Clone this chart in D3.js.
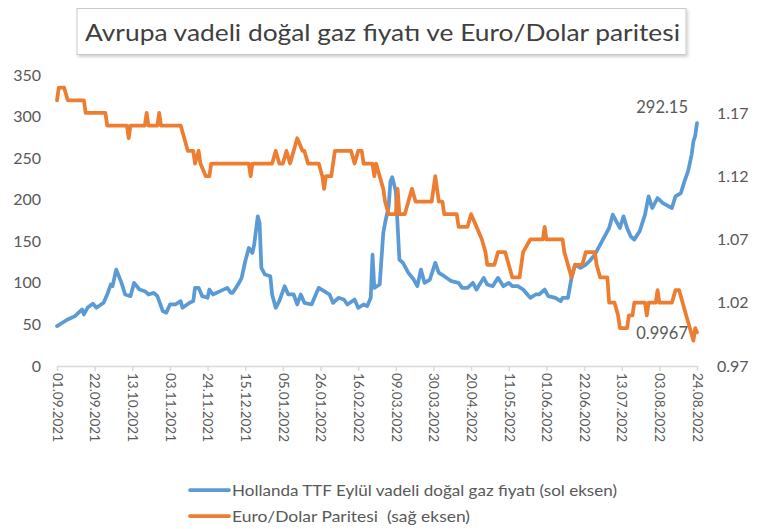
<!DOCTYPE html>
<html>
<head>
<meta charset="utf-8">
<script src="https://cdn.jsdelivr.net/npm/d3@7"></script>
<style>
  body { margin: 0; background: #fff; }
  svg { display: block; font-family: Lato, "Open Sans", sans-serif; }
</style>
</head>
<body>
<div id="chart"></div>
<script>
// dati
const titleText = 'Avrupa vadeli doğal gaz fiyatı ve Euro/Dolar paritesi';
const ttfLabel = 'Hollanda TTF Eylül vadeli doğal gaz fiyatı (sol eksen)';
const eurLabel = 'Euro/Dolar Paritesi  (sağ eksen)';

const dateTicks = ['01.09.2021','22.09.2021','13.10.2021','03.11.2021','24.11.2021','15.12.2021',
  '05.01.2022','26.01.2022','16.02.2022','09.03.2022','30.03.2022','20.04.2022','11.05.2022',
  '01.06.2022','22.06.2022','13.07.2022','03.08.2022','24.08.2022'];
const leftTicks = [0, 50, 100, 150, 200, 250, 300, 350];
const rightTicks = [0.97, 1.02, 1.07, 1.12, 1.17];

// TTF (sol eksen)
const ttfDates = ['01.09.2021','04.09.2021','07.09.2021','11.09.2021','15.09.2021','16.09.2021','18.09.2021',
  '21.09.2021','23.09.2021','27.09.2021','29.09.2021','01.10.2021','02.10.2021','04.10.2021','07.10.2021',
  '09.10.2021','12.10.2021','14.10.2021','17.10.2021','20.10.2021','22.10.2021','25.10.2021','27.10.2021',
  '30.10.2021','01.11.2021','03.11.2021','06.11.2021','09.11.2021','10.11.2021','14.11.2021','16.11.2021',
  '17.11.2021','19.11.2021','21.11.2021','24.11.2021','25.11.2021','27.11.2021','01.12.2021','05.12.2021',
  '07.12.2021','08.12.2021','11.12.2021','13.12.2021','15.12.2021','17.12.2021','19.12.2021','20.12.2021',
  '22.12.2021','23.12.2021','24.12.2021','26.12.2021','29.12.2021','30.12.2021','01.01.2022','03.01.2022',
  '06.01.2022','08.01.2022','11.01.2022','13.01.2022','15.01.2022','17.01.2022','21.01.2022','25.01.2022',
  '28.01.2022','31.01.2022','02.02.2022','05.02.2022','08.02.2022','10.02.2022','14.02.2022','16.02.2022',
  '19.02.2022','21.02.2022','23.02.2022','24.02.2022','25.02.2022','28.02.2022','02.03.2022','03.03.2022',
  '05.03.2022','06.03.2022','07.03.2022','09.03.2022','11.03.2022','13.03.2022','16.03.2022','19.03.2022',
  '21.03.2022','23.03.2022','25.03.2022','28.03.2022','31.03.2022','02.04.2022','05.04.2022','09.04.2022',
  '13.04.2022','15.04.2022','18.04.2022','21.04.2022','23.04.2022','27.04.2022','29.04.2022','02.05.2022',
  '05.05.2022','08.05.2022','11.05.2022','13.05.2022','16.05.2022','19.05.2022','23.05.2022','26.05.2022',
  '28.05.2022','31.05.2022','02.06.2022','06.06.2022','09.06.2022','10.06.2022','13.06.2022','15.06.2022',
  '17.06.2022','20.06.2022','23.06.2022','25.06.2022','28.06.2022','01.07.2022','04.07.2022','06.07.2022',
  '08.07.2022','10.07.2022','12.07.2022','14.07.2022','16.07.2022','18.07.2022','20.07.2022','23.07.2022',
  '26.07.2022','28.07.2022','30.07.2022','02.08.2022','05.08.2022','10.08.2022','12.08.2022','15.08.2022',
  '17.08.2022','19.08.2022','21.08.2022','22.08.2022','23.08.2022','24.08.2022'];
const ttfValues = [48,52,56,60,68,62,70,
  75,70,76,86,98,96,116,100,
  86,84,100,92,90,86,88,84,
  66,64,74,74,78,70,76,78,
  94,94,84,82,92,86,90,94,
  88,88,98,106,126,142,136,146,
  180,172,118,110,108,86,70,78,
  96,86,86,74,86,76,74,94,
  90,86,76,82,80,74,80,70,
  74,72,82,134,94,98,160,172,
  192,222,227,210,128,124,112,104,
  96,116,100,104,124,112,108,102,
  100,94,94,100,92,106,98,96,
  106,96,100,96,96,92,82,86,
  86,92,84,82,78,82,82,106,
  122,118,122,126,134,146,158,166,
  182,174,166,180,166,156,152,162,
  182,204,190,202,196,190,204,208,
  222,234,254,270,277,292.15];

// Euro/Dolar (sağ eksen)
const eurDates = ['01.09.2021','02.09.2021','05.09.2021','07.09.2021','16.09.2021','17.09.2021','28.09.2021',
  '29.09.2021','10.10.2021','11.10.2021','12.10.2021','20.10.2021','21.10.2021','22.10.2021','27.10.2021',
  '28.10.2021','29.10.2021','09.11.2021','11.11.2021','13.11.2021','16.11.2021','17.11.2021','19.11.2021',
  '20.11.2021','23.11.2021','25.11.2021','26.11.2021','17.12.2021','18.12.2021','19.12.2021','30.12.2021',
  '01.01.2022','03.01.2022','05.01.2022','07.01.2022','09.01.2022','11.01.2022','13.01.2022','16.01.2022',
  '17.01.2022','19.01.2022','25.01.2022','27.01.2022','28.01.2022','29.01.2022','01.02.2022','03.02.2022',
  '12.02.2022','14.02.2022','16.02.2022','18.02.2022','19.02.2022','24.02.2022','25.02.2022','26.02.2022',
  '28.02.2022','02.03.2022','03.03.2022','05.03.2022','09.03.2022','10.03.2022','11.03.2022','14.03.2022',
  '16.03.2022','18.03.2022','20.03.2022','29.03.2022','31.03.2022','02.04.2022','04.04.2022','05.04.2022',
  '12.04.2022','13.04.2022','18.04.2022','20.04.2022','23.04.2022','26.04.2022','28.04.2022','29.04.2022',
  '03.05.2022','05.05.2022','09.05.2022','11.05.2022','13.05.2022','17.05.2022','19.05.2022','23.05.2022',
  '30.05.2022','31.05.2022','01.06.2022','10.06.2022','11.06.2022','13.06.2022','15.06.2022','17.06.2022',
  '21.06.2022','23.06.2022','28.06.2022','29.06.2022','01.07.2022','05.07.2022','06.07.2022','09.07.2022',
  '11.07.2022','12.07.2022','16.07.2022','17.07.2022','19.07.2022','20.07.2022','26.07.2022','27.07.2022',
  '28.07.2022','01.08.2022','02.08.2022','03.08.2022','10.08.2022','12.08.2022','14.08.2022','16.08.2022',
  '18.08.2022','20.08.2022','22.08.2022','23.08.2022','24.08.2022'];
const eurValues = [1.18,1.19,1.19,1.18,1.18,1.17,1.17,
  1.16,1.16,1.15,1.16,1.16,1.17,1.16,1.16,
  1.17,1.16,1.16,1.15,1.14,1.14,1.13,1.14,
  1.13,1.12,1.12,1.13,1.13,1.12,1.13,1.13,
  1.14,1.13,1.13,1.14,1.13,1.14,1.15,1.14,
  1.14,1.13,1.13,1.12,1.11,1.12,1.12,1.14,
  1.14,1.13,1.14,1.14,1.13,1.13,1.12,1.13,
  1.12,1.11,1.10,1.09,1.09,1.11,1.09,1.09,
  1.10,1.11,1.10,1.10,1.12,1.10,1.10,1.09,
  1.09,1.08,1.08,1.09,1.08,1.07,1.06,1.05,
  1.05,1.06,1.06,1.05,1.04,1.04,1.06,1.07,
  1.07,1.08,1.07,1.07,1.06,1.05,1.04,1.05,
  1.05,1.06,1.06,1.05,1.04,1.04,1.02,1.02,
  1.01,1.00,1.00,1.01,1.01,1.02,1.02,1.01,
  1.02,1.02,1.03,1.02,1.02,1.03,1.03,1.02,
  1.01,1.00,0.99,1.00,0.9967];

const W = 766, H = 529;
const parse = d3.timeParse('%d.%m.%Y');
const blue = '#5B9BD5', orange = '#ED7D31', textGray = '#595959';

const svg = d3.select('#chart').append('svg')
  .attr('width', W).attr('height', H);

// ombra leggera per il box del titolo
const defs = svg.append('defs');
const f = defs.append('filter').attr('id', 'shadow')
  .attr('x', '-5%').attr('y', '-20%').attr('width', '110%').attr('height', '150%');
f.append('feDropShadow').attr('dx', 1.5).attr('dy', 2).attr('stdDeviation', 1.5)
  .attr('flood-color', '#000').attr('flood-opacity', 0.18);

// titolo nel riquadro
svg.append('rect')
  .attr('x', 77).attr('y', 8.5).attr('width', 609).attr('height', 46)
  .attr('fill', '#fff').attr('stroke', '#c9c9c9').attr('stroke-width', 1)
  .attr('filter', 'url(#shadow)');
svg.append('text')
  .attr('x', 85).attr('y', 41)
  .attr('font-size', 24).attr('fill', '#404040')
  .attr('textLength', 595).attr('lengthAdjust', 'spacingAndGlyphs')
  .text(titleText);

// scale
const x = d3.scaleTime()
  .domain([parse(dateTicks[0]), parse(dateTicks[dateTicks.length - 1])])
  .range([57, 697]);
const yL = d3.scaleLinear().domain([0, 350]).range([366, 75]);
const yR = d3.scaleLinear().domain([0.97, 1.20]).range([366, 75]);

// asse x
const xAxis = svg.append('g')
  .attr('transform', 'translate(0,366)')
  .call(d3.axisBottom(x)
    .tickValues(dateTicks.map(parse))
    .tickFormat(d3.timeFormat('%d.%m.%Y'))
    .tickSizeInner(5).tickSizeOuter(0));
xAxis.select('.domain').attr('stroke', '#d9d9d9').attr('stroke-width', 1.5);
xAxis.selectAll('.tick line').attr('stroke', '#d9d9d9').attr('stroke-width', 1.5);
xAxis.selectAll('.tick text')
  .attr('font-family', 'Lato, sans-serif')
  .attr('font-size', 13.5).attr('fill', textGray)
  .attr('text-anchor', 'start')
  .attr('transform', 'rotate(90)')
  .attr('x', 7).attr('y', 0).attr('dy', '0.35em');

// asse sinistro
const leftAxis = svg.append('g')
  .attr('transform', 'translate(41,0)')
  .call(d3.axisLeft(yL).tickValues(leftTicks).tickSize(0).tickPadding(0));
leftAxis.select('.domain').remove();
leftAxis.selectAll('.tick text')
  .attr('font-family', 'Lato, sans-serif')
  .attr('font-size', 16).attr('fill', textGray);

// asse destro
const rightAxis = svg.append('g')
  .attr('transform', 'translate(717,0)')
  .call(d3.axisRight(yR).tickValues(rightTicks).tickFormat(d3.format('.2f')).tickSize(0).tickPadding(0));
rightAxis.select('.domain').remove();
rightAxis.selectAll('.tick text')
  .attr('font-family', 'Lato, sans-serif')
  .attr('font-size', 16).attr('fill', textGray);

// linee
const ttfData = ttfDates.map((d, i) => ({ date: parse(d), value: ttfValues[i] }));
const eurData = eurDates.map((d, i) => ({ date: parse(d), value: eurValues[i] }));

svg.append('path')
  .datum(ttfData)
  .attr('fill', 'none').attr('stroke', blue).attr('stroke-width', 3.75)
  .attr('stroke-linejoin', 'round').attr('stroke-linecap', 'round')
  .attr('d', d3.line().x(d => x(d.date)).y(d => yL(d.value)));

svg.append('path')
  .datum(eurData)
  .attr('fill', 'none').attr('stroke', orange).attr('stroke-width', 3.75)
  .attr('stroke-linejoin', 'round').attr('stroke-linecap', 'round')
  .attr('d', d3.line().x(d => x(d.date)).y(d => yR(d.value)));

// etichette ultimo valore
const lastT = ttfData[ttfData.length - 1];
const lastE = eurData[eurData.length - 1];
svg.append('text')
  .attr('x', x(lastT.date) - 9).attr('y', yL(lastT.value) - 10)
  .attr('text-anchor', 'end').attr('font-size', 16.5).attr('fill', textGray)
  .text(d3.format('.2f')(lastT.value));
svg.append('text')
  .attr('x', x(lastE.date) - 9).attr('y', yR(lastE.value) + 7)
  .attr('text-anchor', 'end').attr('font-size', 16.5).attr('fill', textGray)
  .text(d3.format('.4f')(lastE.value));

// legenda
const legend = [
  { label: ttfLabel, color: blue, width: 385 },
  { label: eurLabel, color: orange, width: 238 }
];
const lg = svg.selectAll('.legend')
  .data(legend)
  .join('g')
  .attr('class', 'legend')
  .attr('transform', (d, i) => `translate(190,${490 + i * 26})`);
lg.append('line')
  .attr('x1', 0).attr('x2', 39).attr('y1', 0).attr('y2', 0)
  .attr('stroke', d => d.color).attr('stroke-width', 3.75).attr('stroke-linecap', 'round');
lg.append('text')
  .attr('x', 42).attr('y', 0).attr('dy', '0.35em')
  .attr('font-size', 16).attr('fill', textGray)
  .attr('xml:space', 'preserve')
  .attr('textLength', d => d.width).attr('lengthAdjust', 'spacingAndGlyphs')
  .text(d => d.label);
</script>
</body>
</html>
